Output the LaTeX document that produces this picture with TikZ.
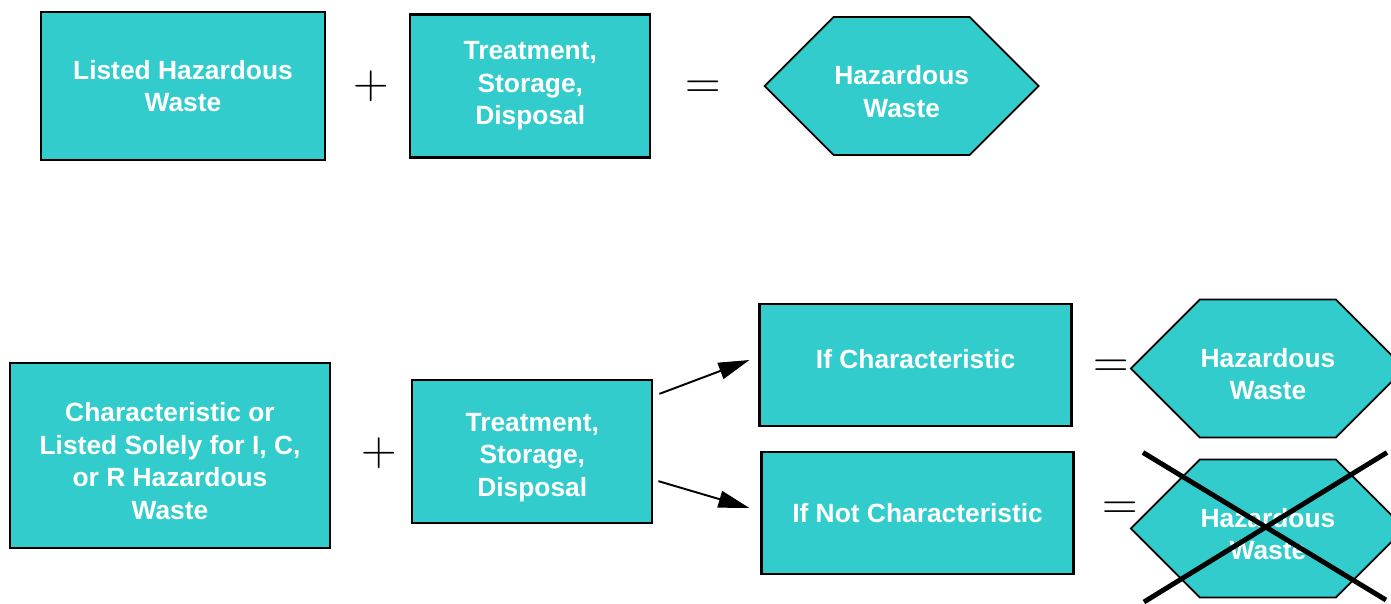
\documentclass[tikz,border=0pt]{standalone}
\usepackage{fontspec}
\setmainfont{Liberation Sans}
\newfontfamily\signfont{Latin Modern Roman}
\usepackage{tikz}
\usetikzlibrary{shapes.symbols, arrows.meta, positioning, calc}
\definecolor{wastecolor}{RGB}{51, 204, 204}
\newcommand{\topgap}{\rule{0pt}{17pt}}

\begin{document}
\begin{tikzpicture}[
    box/.style={draw, line width=1.3pt, fill=wastecolor, text=white, font=\bfseries\fontsize{15}{18.5}\selectfont, align=center},
    hazard/.style={signal, signal to=east and west, signal pointer angle=90, draw, line width=1pt, fill=wastecolor, text=white, font=\bfseries\fontsize{15}{18.5}\selectfont, align=center, inner xsep=0pt, minimum width=5.48cm, minimum height=2.76cm},
    sign/.style={inner sep=0pt, font=\signfont\fontsize{28}{28}\selectfont},
    arrow/.style={-{Triangle[length=0.62cm, width=0.34cm]}, line width=1.1pt},
    cross/.style={line width=2.8pt}
]
    \useasboundingbox (0,0) rectangle (27.82,-12.06);

    % Nodes - top row
    \node[box, minimum width=5.68cm, minimum height=2.96cm] (listed) at (3.66,-1.72) {Listed Hazardous\\Waste};
    \node[box, minimum width=4.8cm, minimum height=2.86cm, right=1.66cm of listed] (tsdA) {Treatment,\\Storage,\\Disposal};
    \node[hazard, right=2.24cm of tsdA] (hazA) {\topgap Hazardous\\Waste};
    \node[sign, xshift=0.07cm] (plusA) at ($(listed.east)!0.5!(tsdA.west)$) {+};
    \node[sign, xshift=-0.08cm, yshift=-0.07cm] (eqA) at ($(tsdA.east)!0.5!(hazA.west)$) {=};

    % Nodes - bottom row
    \node[box, minimum width=6.4cm, minimum height=3.7cm] (icr) at (3.4,-9.11) {\topgap Characteristic or\\Listed Solely for I, C,\\or R Hazardous\\Waste};
    \node[box, minimum width=4.8cm, minimum height=2.86cm, right=1.6cm of icr, yshift=0.08cm] (tsdB) {\topgap Treatment,\\Storage,\\Disposal};
    \node[sign, xshift=0.16cm] (plusB) at ($(icr.east)!0.5!(tsdB.west)$) {+};
    \node[box, minimum width=6.24cm, minimum height=2.44cm, text depth=0.24cm, right=2.1cm of tsdB, yshift=1.73cm] (ifchar) {If Characteristic};
    \node[box, minimum width=6.24cm, minimum height=2.44cm, right=2.14cm of tsdB, yshift=-1.23cm] (ifnot) {If Not Characteristic};
    \node[hazard, right=1.14cm of ifchar, yshift=-0.07cm] (hazB) {\topgap Hazardous\\Waste};
    \node[hazard, right=1.1cm of ifnot, yshift=-0.31cm] (hazC) {\topgap Hazardous\\Waste};
    \node[sign, left=0cm of hazB] (eqB) {=};
    \node[sign, left=-0.18cm of hazC, yshift=0.36cm] (eqC) {=};

    % Arrows
    \draw[arrow] ([shift={(0.12,-0.3)}]tsdB.north east) -- ([shift={(-0.18,0.1)}]ifchar.west);
    \draw[arrow] ([shift={(0.1,0.86)}]tsdB.south east) -- ([shift={(-0.22,0.1)}]ifnot.west);

    % Cross over the last hexagon
    \draw[cross] ([shift={(-2.5,1.52)}]hazC.center) -- ([shift={(2.36,-1.43)}]hazC.center);
    \draw[cross] ([shift={(-2.48,-1.47)}]hazC.center) -- ([shift={(2.38,1.52)}]hazC.center);
\end{tikzpicture}
\end{document}
